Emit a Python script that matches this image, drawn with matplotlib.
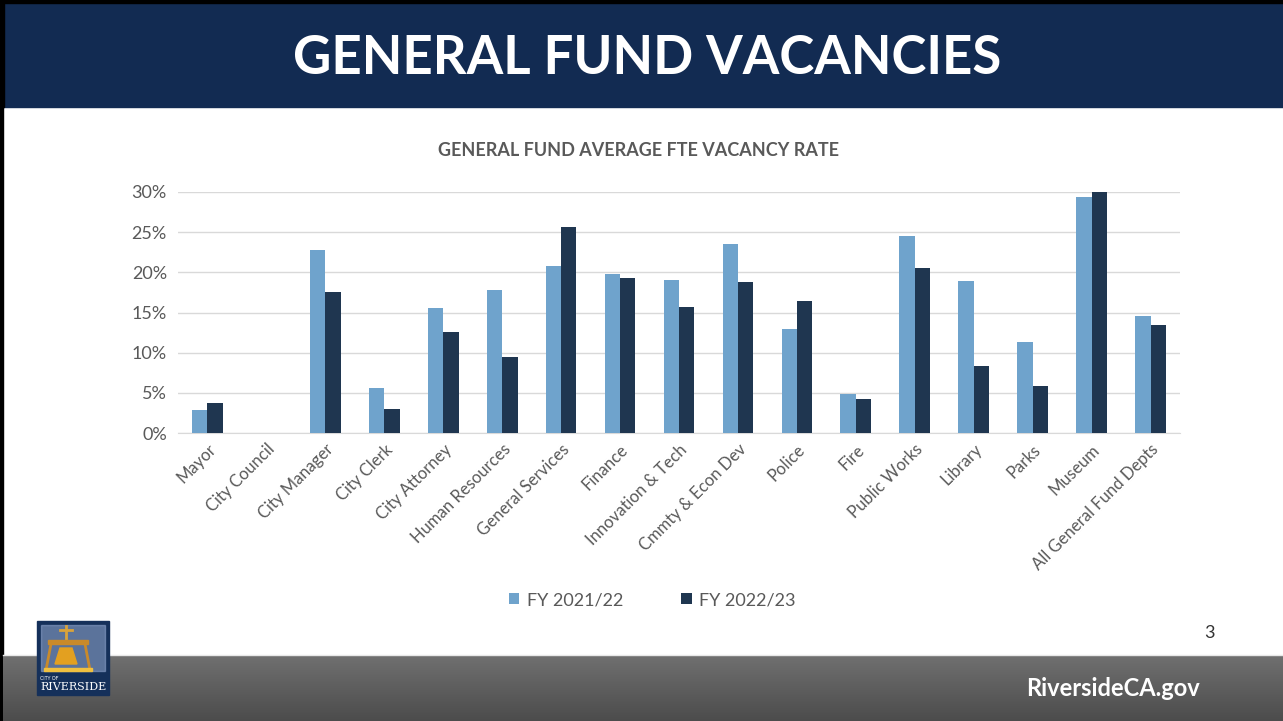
import numpy as np
import matplotlib.pyplot as plt
from matplotlib.patches import Rectangle, Polygon

plt.rcParams['font.family'] = ['Lato', 'DejaVu Sans']

# 数据
departments = ['Mayor', 'City Council', 'City Manager', 'City Clerk', 'City Attorney',
               'Human Resources', 'General Services', 'Finance', 'Innovation & Tech',
               'Cmmty & Econ Dev', 'Police', 'Fire', 'Public Works', 'Library', 'Parks',
               'Museum', 'All General Fund Depts']
fy2122 = [2.9, 0.0, 22.8, 5.6, 15.5, 17.8, 20.8, 19.8, 19.0, 23.5, 12.9, 4.9, 24.5, 18.9, 11.3, 29.4, 14.6]
fy2223 = [3.7, 0.0, 17.6, 3.0, 12.6, 9.4, 25.6, 19.3, 15.7, 18.8, 16.4, 4.2, 20.5, 8.3, 5.8, 30.0, 13.5]
series_names = ['FY 2021/22', 'FY 2022/23']
yticks = [0, 5, 10, 15, 20, 25, 30]

W, H = 1283, 721
fig = plt.figure(figsize=(W / 100, H / 100), dpi=100)

# 背景装饰（像素坐标）
bg = fig.add_axes([0, 0, 1, 1])
bg.set_xlim(0, W)
bg.set_ylim(H, 0)
bg.axis('off')
bg.add_patch(Rectangle((0, 0), W, H, color='white'))
bg.add_patch(Rectangle((0, 0), W, 107, color='#122B52'))
bg.add_patch(Rectangle((0, 0), W, 3, color='black'))
bg.add_patch(Rectangle((0, 0), 4, 107, color='black'))
bg.add_patch(Rectangle((0, 107), 2.5, H - 107, color='black'))
grad = np.linspace(0, 1, 100).reshape(-1, 1)
bg.imshow(grad, extent=(2.5, W, H, 655), cmap=plt.matplotlib.colors.LinearSegmentedColormap.from_list(
    'g', ['#707070', '#4c4c4c']), aspect='auto', zorder=1)
bg.plot([2.5, W], [655, 655], color='#e8e8e8', lw=1, zorder=2)
bg.set_xlim(0, W)
bg.set_ylim(H, 0)
bg.text(647, 58, 'GENERAL FUND VACANCIES', color='white', fontsize=38, fontweight='bold',
        ha='center', va='center')
bg.text(1200, 688, 'RiversideCA.gov', color='white', fontsize=17, fontweight='bold',
        ha='right', va='center', zorder=3)
bg.text(1215, 633, '3', color='#333333', fontsize=13, ha='right', va='center')

# 简易市徽
bg.add_patch(Rectangle((37, 621), 72, 74, color='#15305A', zorder=3))
bg.add_patch(Rectangle((41, 625), 64, 46, color='#8aa0c8', zorder=3, alpha=0.6))
bg.plot([66, 66], [626, 640], color='#d9a33a', lw=2, zorder=4)
bg.plot([60, 72], [630, 630], color='#d9a33a', lw=2, zorder=4)
bg.add_patch(Rectangle((48, 640), 40, 4, color='#c98a2a', zorder=4))
bg.plot([51, 46], [644, 670], color='#c98a2a', lw=2, zorder=4)
bg.plot([85, 90], [644, 670], color='#c98a2a', lw=2, zorder=4)
bg.add_patch(Polygon([[60, 648], [72, 648], [77, 664], [55, 664]], color='#e3a020', zorder=4))
bg.add_patch(Rectangle((44, 668), 48, 3, color='#f0c040', zorder=4))
bg.text(40, 678, 'CITY OF', color='white', fontsize=3.5, va='center', zorder=5)
bg.text(40, 687, 'RIVERSIDE', color='white', fontsize=8, va='center', family='DejaVu Serif', zorder=5)

# 图表
ax = fig.add_axes([178 / W, (H - 433) / H, 1002 / W, (433 - 192) / H])
x = np.arange(len(departments))
w = 0.26
ax.bar(x - w / 2, fy2122, w, color='#6FA3CC', label=series_names[0], zorder=3)
ax.bar(x + w / 2, fy2223, w, color='#1F3650', label=series_names[1], zorder=3)
ax.set_xlim(-0.5, len(departments) - 0.5)
ax.set_ylim(0, 30)
ax.set_yticks(yticks)
ax.set_yticklabels([f'{t}%' for t in yticks], color='#595959', fontsize=13)
ax.set_xticks(x)
ax.set_xticklabels(departments, rotation=45, ha='right', rotation_mode='anchor',
                   color='#595959', fontsize=12)
ax.tick_params(length=0, pad=8)
ax.tick_params(axis='x', pad=6)
ax.grid(axis='y', color='#d9d9d9', lw=1, zorder=0)
for s in ['top', 'right', 'left']:
    ax.spines[s].set_visible(False)
ax.spines['bottom'].set_color('#d9d9d9')
ax.set_title('GENERAL FUND AVERAGE FTE VACANCY RATE', color='#595959', fontsize=13,
             fontweight='bold', pad=26, x=0.46)

fig.legend(loc='center', bbox_to_anchor=(652 / W, (H - 600) / H), ncol=2, frameon=False,
           fontsize=13, labelcolor='#595959', handlelength=0.6, handleheight=0.6,
           columnspacing=3.2, handletextpad=0.4)

plt.savefig('out.png', dpi=100)
